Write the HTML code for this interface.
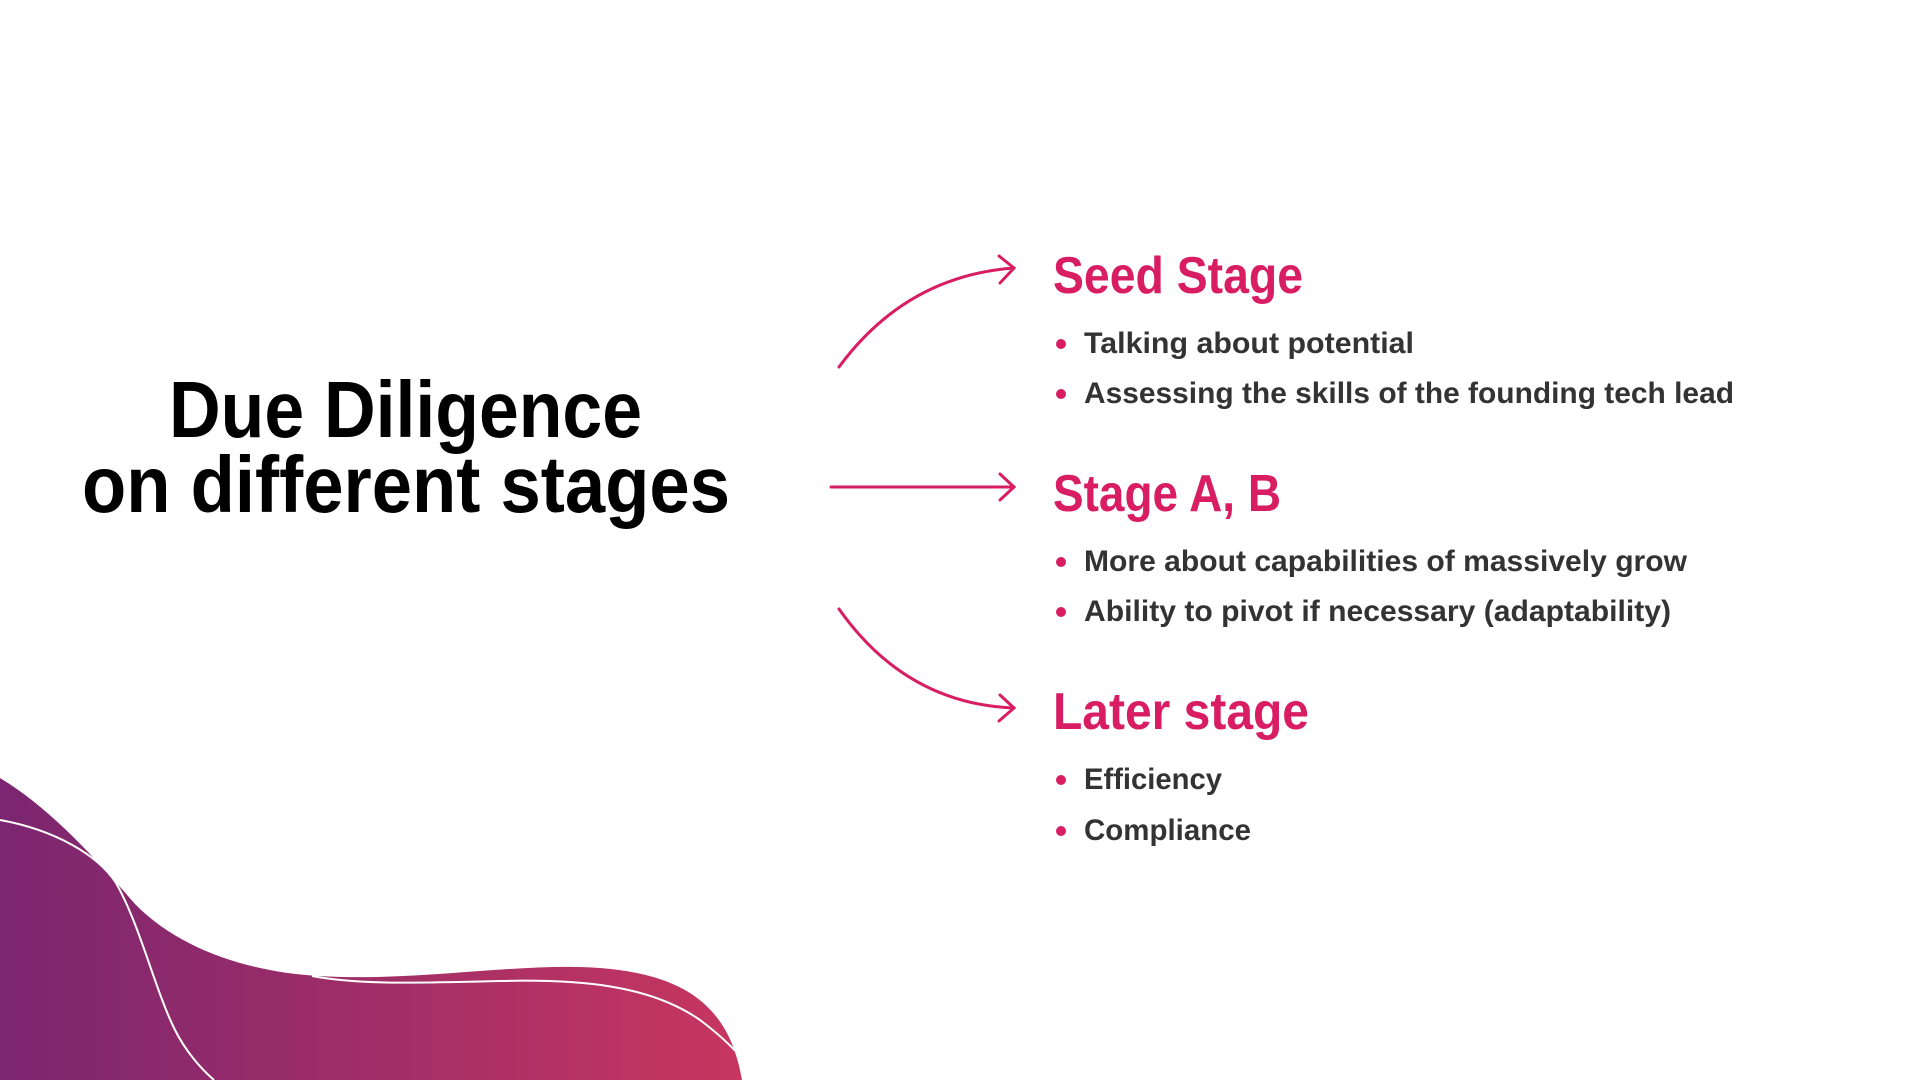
<!DOCTYPE html>
<html><head><meta charset="utf-8"><style>
html,body{margin:0;padding:0;background:#fff;width:1920px;height:1080px;overflow:hidden}
svg{display:block}
</style></head><body>
<svg width="1920" height="1080" viewBox="0 0 1920 1080" xmlns="http://www.w3.org/2000/svg">
<defs>
<linearGradient id="g" x1="0" y1="0" x2="1" y2="0">
<stop offset="0" stop-color="#7a2670"/><stop offset="1" stop-color="#c7365f"/>
</linearGradient>
</defs>
<path d="M0,778 C50,808 95,858 135,904 C180,950 250,972 318,976 C420,982 520,962 600,968 C690,975 730,1010 742,1080 L0,1080 Z" fill="url(#g)"/>
<path d="M0,820 C55,830 98,855 116,883 C140,925 155,990 175,1030 C185,1050 200,1068 214,1080" fill="none" stroke="#fff" stroke-width="2"/>
<path d="M312,976 C360,985 420,983 500,981 C580,979 650,985 700,1020 C720,1035 732,1047 740,1056" fill="none" stroke="#fff" stroke-width="2"/>
<g fill="none" stroke="#d81d63" stroke-width="3" stroke-linecap="round">
<path d="M839,367 Q906,276 1014,268"/>
<path d="M999,256 L1014,268 L1000,283"/>
<path d="M831,487 L1014,487"/>
<path d="M1000,474 L1014,487 L1000,500"/>
<path d="M839,609 Q906,704 1014,708"/>
<path d="M1000,695 L1014,708 L999,721"/>
</g>
<g font-family="Liberation Sans, sans-serif" font-weight="bold">
<text x="169" y="437" font-size="80" fill="#000" textLength="473" lengthAdjust="spacingAndGlyphs">Due Diligence</text>
<text x="82" y="512" font-size="80" fill="#000" textLength="648" lengthAdjust="spacingAndGlyphs">on different stages</text>
<g fill="#d81d63" font-size="52">
<text x="1053" y="293" textLength="250" lengthAdjust="spacingAndGlyphs">Seed Stage</text>
<text x="1053" y="511" textLength="228" lengthAdjust="spacingAndGlyphs">Stage A, B</text>
<text x="1053" y="729" textLength="256" lengthAdjust="spacingAndGlyphs">Later stage</text>
</g>
<g fill="#d81d63">
<circle cx="1061" cy="344" r="5"/><circle cx="1061" cy="394" r="5"/>
<circle cx="1061" cy="562" r="5"/><circle cx="1061" cy="612" r="5"/>
<circle cx="1061" cy="780" r="5"/><circle cx="1061" cy="831" r="5"/>
</g>
<g fill="#333" font-size="30">
<text x="1084" y="353" textLength="330" lengthAdjust="spacingAndGlyphs">Talking about potential</text>
<text x="1084" y="403" textLength="650" lengthAdjust="spacingAndGlyphs">Assessing the skills of the founding tech lead</text>
<text x="1084" y="571" textLength="603" lengthAdjust="spacingAndGlyphs">More about capabilities of massively grow</text>
<text x="1084" y="621" textLength="587" lengthAdjust="spacingAndGlyphs">Ability to pivot if necessary (adaptability)</text>
<text x="1084" y="789" textLength="138" lengthAdjust="spacingAndGlyphs">Efficiency</text>
<text x="1084" y="840" textLength="167" lengthAdjust="spacingAndGlyphs">Compliance</text>
</g>
</g>
</svg>
</body></html>
